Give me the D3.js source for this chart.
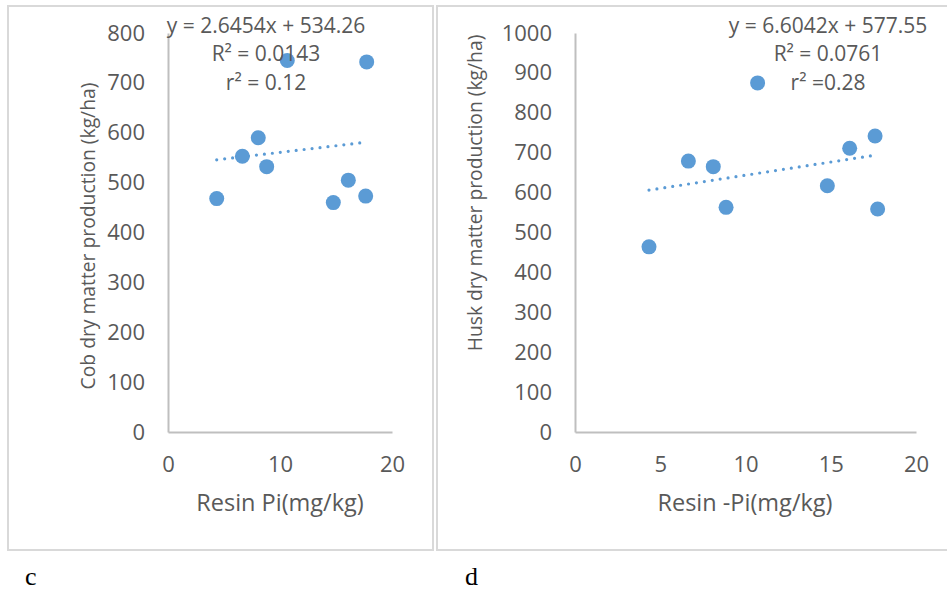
<!DOCTYPE html>
<html>
<head>
<meta charset="utf-8">
<script src="https://cdn.jsdelivr.net/npm/d3@7/dist/d3.min.js"></script>
<style>
  html, body { margin: 0; padding: 0; background: #fff; }
  svg { display: block; }
  .tick text, .lbl { font-family: "Open Sans", "Noto Sans", sans-serif; fill: #595959; }
</style>
</head>
<body>
<svg id="chart" width="947" height="592"></svg>
<script>
// Panel c: cob dry matter vs resin Pi
const resinPiC = [4.35, 6.64, 8.06, 8.81, 10.65, 14.76, 16.1, 17.65, 17.74];
const cobDryMatter = [468, 553, 590, 532, 745, 460, 505, 473, 742];
const cobXTicks = [0, 10, 20];
const cobYTicks = [0, 100, 200, 300, 400, 500, 600, 700, 800];
const cobFit = { slope: 2.6454, intercept: 534.26 };
const cobFitText = ["y = 2.6454x + 534.26", "R² = 0.0143", "r² = 0.12"];

// Panel d: husk dry matter vs resin Pi
const resinPiD = [4.34, 6.65, 8.11, 8.86, 10.71, 14.8, 16.11, 17.6, 17.75];
const huskDryMatter = [464, 679, 665, 563, 875, 617, 711, 742, 559];
const huskXTicks = [0, 5, 10, 15, 20];
const huskYTicks = [0, 100, 200, 300, 400, 500, 600, 700, 800, 900, 1000];
const huskFit = { slope: 6.6042, intercept: 577.55 };
const huskFitText = ["y = 6.6042x + 577.55", "R² = 0.0761", "r² =0.28"];

const svg = d3.select("#chart");
const pointColor = "#5b9bd5";
const axisColor = "#bfbfbf";
const frameColor = "#d9d9d9";

const panels = [
  {
    xs: resinPiC, ys: cobDryMatter, xTicks: cobXTicks, yTicks: cobYTicks, fit: cobFit, fitText: cobFitText,
    frame: { x: 8, y: 6, w: 425, h: 544 },
    xRange: [168, 392], yRange: [432, 33], yMax: 800,
    xTitle: "Resin Pi(mg/kg)", xTitlePos: [280, 511],
    yTitle: "Cob dry matter production (kg/ha)", yTitlePos: [95, 236],
    fitCenter: 266, tag: "c", tagPos: [25, 585]
  },
  {
    xs: resinPiD, ys: huskDryMatter, xTicks: huskXTicks, yTicks: huskYTicks, fit: huskFit, fitText: huskFitText,
    frame: { x: 437, y: 6, w: 520, h: 544 },
    xRange: [575, 916], yRange: [432, 33], yMax: 1000,
    xTitle: "Resin -Pi(mg/kg)", xTitlePos: [745, 511],
    yTitle: "Husk dry  matter production (kg/ha)", yTitlePos: [482, 193],
    fitCenter: 828, tag: "d", tagPos: [465, 585]
  }
];

panels.forEach(p => {
  const g = svg.append("g");

  // chart frame
  g.append("rect")
    .attr("x", p.frame.x).attr("y", p.frame.y)
    .attr("width", p.frame.w).attr("height", p.frame.h)
    .attr("fill", "none").attr("stroke", frameColor).attr("stroke-width", 2);

  const x = d3.scaleLinear().domain([0, 20]).range(p.xRange);
  const y = d3.scaleLinear().domain([0, p.yMax]).range(p.yRange);

  // axes
  const xAxis = g.append("g")
    .attr("transform", `translate(0,${p.yRange[0]})`)
    .call(d3.axisBottom(x).tickValues(p.xTicks).tickSize(0).tickPadding(24).tickFormat(d3.format("d")));
  const yAxis = g.append("g")
    .attr("transform", `translate(${p.xRange[0]},0)`)
    .call(d3.axisLeft(y).tickValues(p.yTicks).tickSize(0).tickPadding(23).tickFormat(d3.format("d")));
  [xAxis, yAxis].forEach(a => {
    a.select(".domain").attr("stroke", axisColor).attr("stroke-width", 2);
    a.selectAll(".tick text").attr("font-size", 22);
  });

  // linear trend line (dotted)
  const [x0, x1] = d3.extent(p.xs);
  const f = v => p.fit.slope * v + p.fit.intercept;
  g.append("line")
    .attr("x1", x(x0)).attr("y1", y(f(x0)))
    .attr("x2", x(x1)).attr("y2", y(f(x1)))
    .attr("stroke", pointColor).attr("stroke-width", 3.2)
    .attr("stroke-linecap", "round").attr("stroke-dasharray", "0 8");

  // data points
  g.selectAll("circle.pt")
    .data(p.xs.map((v, i) => [v, p.ys[i]]))
    .join("circle")
    .attr("class", "pt")
    .attr("cx", d => x(d[0])).attr("cy", d => y(d[1]))
    .attr("r", 7.5).attr("fill", pointColor);

  // regression label
  g.selectAll("text.fit")
    .data(p.fitText)
    .join("text")
    .attr("class", "lbl fit")
    .attr("x", p.fitCenter).attr("y", (d, i) => 32.5 + i * 28.5)
    .attr("text-anchor", "middle").attr("font-size", 21)
    .text(d => d);

  // axis titles
  g.append("text").attr("class", "lbl")
    .attr("x", p.xTitlePos[0]).attr("y", p.xTitlePos[1])
    .attr("text-anchor", "middle").attr("font-size", 23.5)
    .text(p.xTitle);
  g.append("text").attr("class", "lbl")
    .attr("transform", `translate(${p.yTitlePos[0]},${p.yTitlePos[1]}) rotate(-90)`)
    .attr("text-anchor", "middle").attr("font-size", 19.3)
    .text(p.yTitle);

  // panel tag
  svg.append("text")
    .attr("x", p.tagPos[0]).attr("y", p.tagPos[1])
    .attr("font-family", "'Liberation Serif', 'Times New Roman', serif")
    .attr("font-size", 26).attr("fill", "#000")
    .text(p.tag);
});
</script>
</body>
</html>
